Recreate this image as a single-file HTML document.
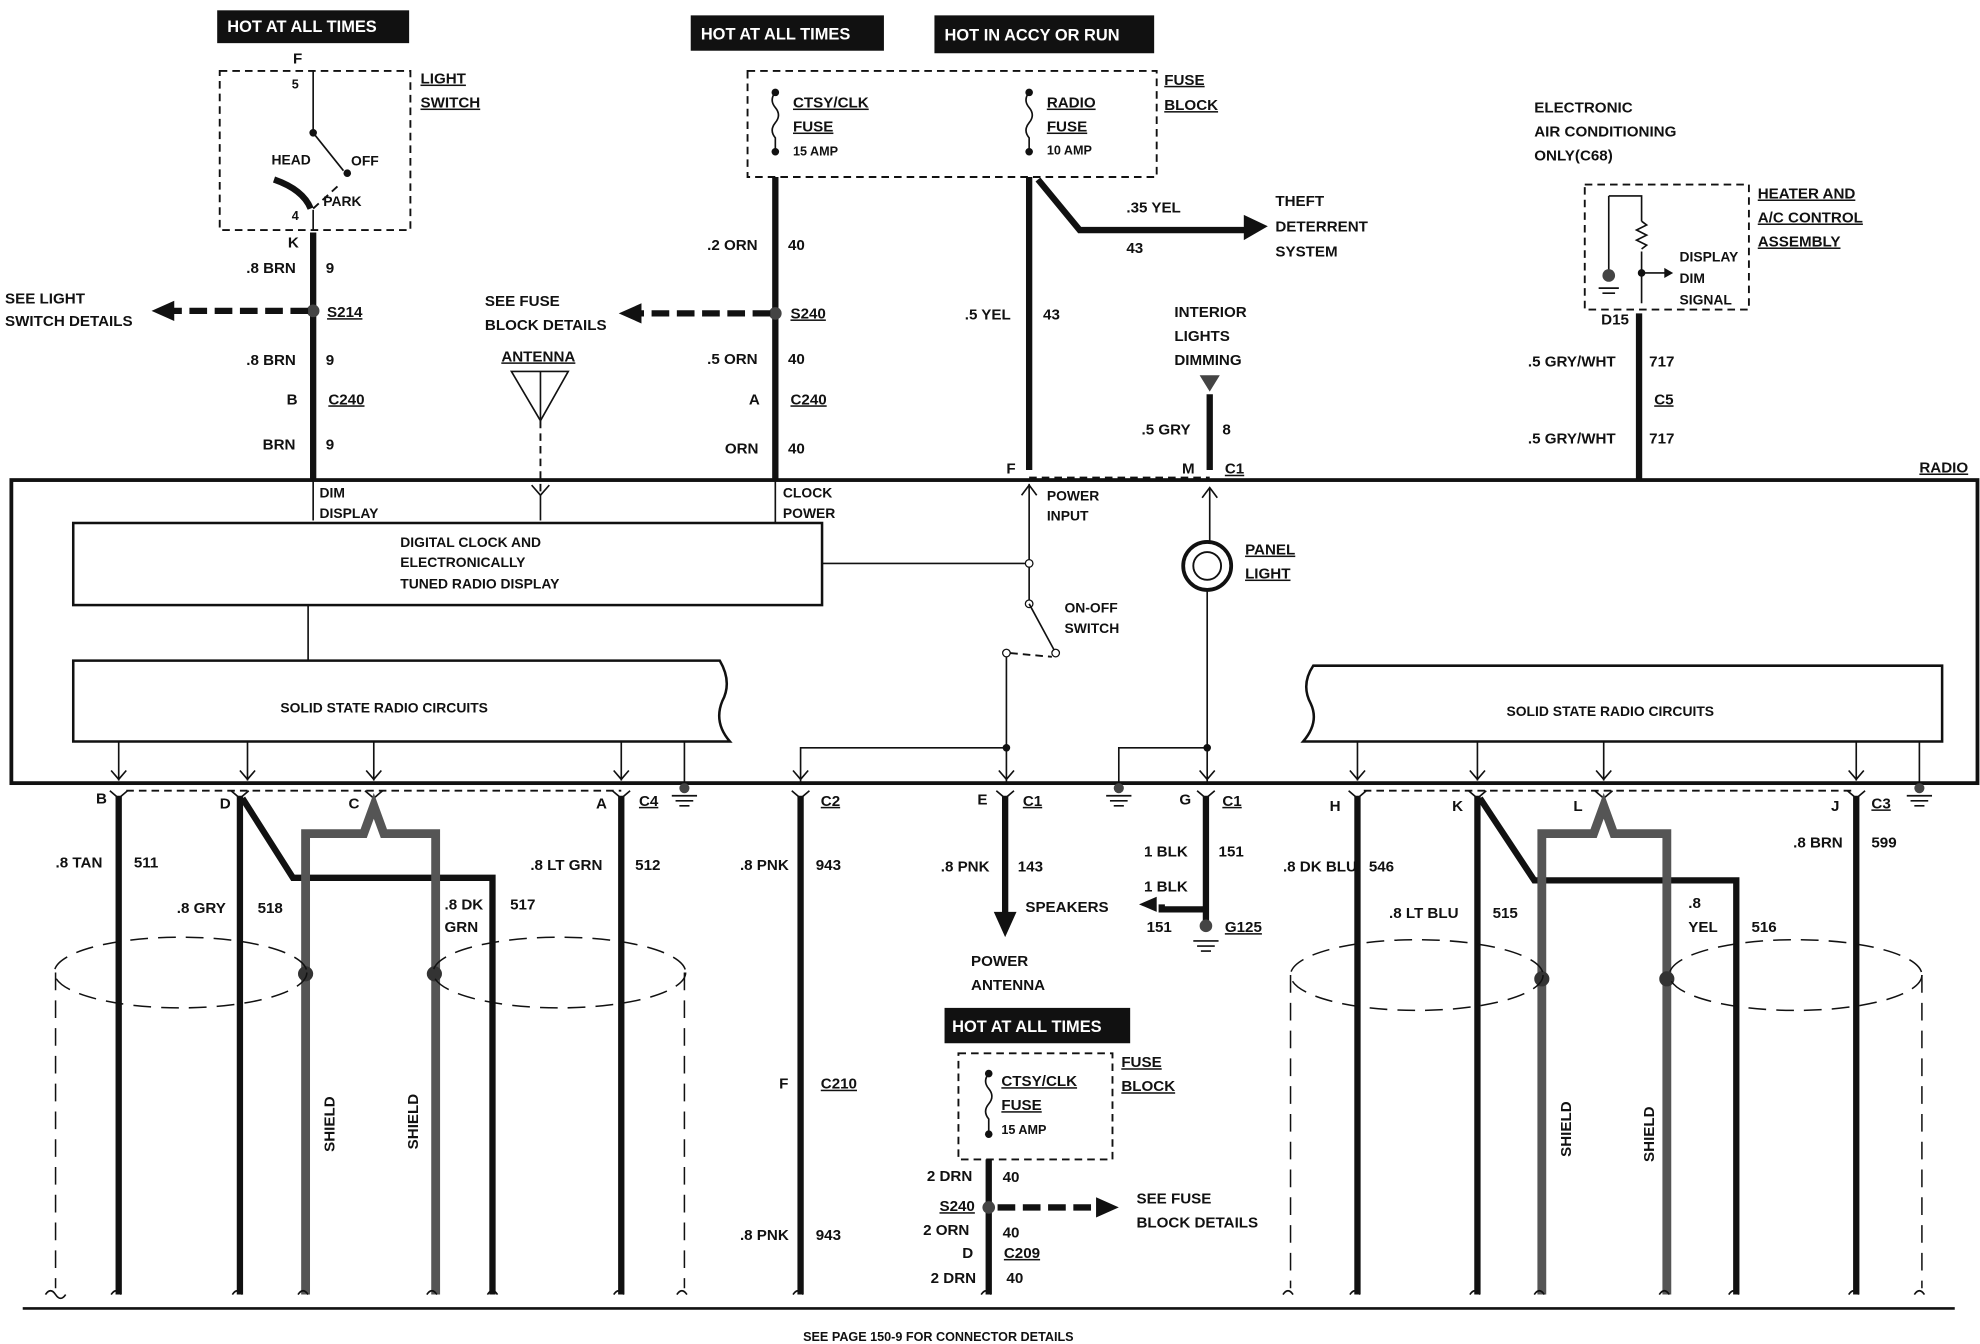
<!DOCTYPE html>
<html><head><meta charset="utf-8"><style>
html,body{margin:0;padding:0;background:#fff}
svg{display:block}
text{font-family:"Liberation Sans",sans-serif;font-weight:bold;font-size:12px;fill:#111}
.w{stroke:#111;stroke-width:5;fill:none}
.g{stroke:#555;stroke-width:7;fill:none}
.t{stroke:#111;stroke-width:1.3;fill:none}
.d{stroke:#111;stroke-width:1.5;fill:none;stroke-dasharray:6 4}
.dl{stroke:#111;stroke-width:1.2;fill:none;stroke-dasharray:14 8}
.u{text-decoration:underline}
</style></head><body>
<svg width="1980" height="1344" viewBox="0 0 1568 1064" xmlns="http://www.w3.org/2000/svg">
<rect width="1568" height="1064" fill="#fff"/>
<!-- top labels -->
<rect x="172" y="8" width="152" height="26" fill="#111"/><text x="180" y="25" style="fill:#fff;font-size:13px">HOT AT ALL TIMES</text>
<rect x="547" y="12" width="153" height="28" fill="#111"/><text x="555" y="31" style="fill:#fff;font-size:13px">HOT AT ALL TIMES</text>
<rect x="740" y="12" width="174" height="30" fill="#111"/><text x="748" y="32" style="fill:#fff;font-size:13px">HOT IN ACCY OR RUN</text>
<!-- light switch -->
<rect x="174" y="56" width="151" height="126" class="d"/>
<text x="232" y="50">F</text><text x="231" y="70" style="font-size:10px">5</text>
<text x="333" y="66" class="u">LIGHT</text><text x="333" y="85" class="u">SWITCH</text>
<line x1="248" y1="56" x2="248" y2="105" class="t"/><circle cx="248" cy="105" r="3" fill="#111"/>
<line x1="248" y1="105" x2="272" y2="135" class="t"/><circle cx="275" cy="137" r="3" fill="#111"/>
<text x="215" y="130" style="font-size:11px">HEAD</text><text x="278" y="131" style="font-size:11px">OFF</text>
<path d="M217 142 Q240 150 246 165" class="w"/><line x1="248" y1="165" x2="270" y2="145" class="d"/>
<text x="256" y="163" style="font-size:11px">PARK</text><text x="231" y="174" style="font-size:10px">4</text>
<line x1="248" y1="166" x2="248" y2="182" class="t"/>
<text x="228" y="196">K</text>
<line x1="248" y1="184" x2="248" y2="380" class="w"/>
<text x="195" y="216">.8 BRN</text><text x="258" y="216">9</text>
<circle cx="248" cy="246" r="5" fill="#444"/><text x="259" y="251" class="u">S214</text>
<line x1="244" y1="246" x2="135" y2="246" class="w" style="stroke-dasharray:14 6"/><path d="M120 246 L138 238 L138 254Z" fill="#111"/>
<text x="4" y="240">SEE LIGHT</text><text x="4" y="258">SWITCH DETAILS</text>
<text x="195" y="289">.8 BRN</text><text x="258" y="289">9</text>
<text x="227" y="320">B</text><text x="260" y="320" class="u">C240</text>
<text x="208" y="356">BRN</text><text x="258" y="356">9</text>
<!-- fuse block -->
<rect x="592" y="56" width="324" height="84" class="d"/>
<text x="922" y="67" class="u">FUSE</text><text x="922" y="87" class="u">BLOCK</text>
<text x="628" y="85" class="u">CTSY/CLK</text><text x="628" y="104" class="u">FUSE</text><text x="628" y="123" style="font-size:10px">15 AMP</text>
<text x="829" y="85" class="u">RADIO</text><text x="829" y="104" class="u">FUSE</text><text x="829" y="122" style="font-size:10px">10 AMP</text>
<circle cx="614" cy="73" r="3" fill="#111"/><circle cx="614" cy="120" r="3" fill="#111"/>
<path d="M614 73 q-5 6 0 12 q5 6 0 12 q-5 6 0 12 L614 120" class="t"/>
<circle cx="815" cy="73" r="3" fill="#111"/><circle cx="815" cy="120" r="3" fill="#111"/>
<path d="M815 73 q-5 6 0 12 q5 6 0 12 q-5 6 0 12 L815 120" class="t"/>
<line x1="614" y1="140" x2="614" y2="380" class="w"/>
<text x="560" y="198">.2 ORN</text><text x="624" y="198">40</text>
<circle cx="614" cy="248" r="5" fill="#444"/><text x="626" y="252" class="u">S240</text>
<line x1="610" y1="248" x2="505" y2="248" class="w" style="stroke-dasharray:14 6"/><path d="M490 248 L508 240 L508 256Z" fill="#111"/>
<text x="384" y="242">SEE FUSE</text><text x="384" y="261">BLOCK DETAILS</text>
<text x="560" y="288">.5 ORN</text><text x="624" y="288">40</text>
<text x="593" y="320">A</text><text x="626" y="320" class="u">C240</text>
<text x="574" y="359">ORN</text><text x="624" y="359">40</text>
<line x1="815" y1="140" x2="815" y2="372" class="w"/>
<path d="M822 142 L855 182 L988 182" class="w"/><path d="M1004 179 L985 170 L985 190Z" fill="#111"/>
<text x="892" y="168">.35 YEL</text><text x="892" y="200">43</text>
<text x="1010" y="163">THEFT</text><text x="1010" y="183">DETERRENT</text><text x="1010" y="203">SYSTEM</text>
<text x="764" y="253">.5 YEL</text><text x="826" y="253">43</text>
<text x="797" y="375">F</text>
<!-- antenna -->
<text x="397" y="286" class="u">ANTENNA</text>
<path d="M405 294 L450 294 L428 333Z" class="t"/><line x1="428" y1="294" x2="428" y2="333" class="t"/>
<line x1="428" y1="333" x2="428" y2="392" class="d"/>
<path d="M421 384 L428 392 L435 384" class="t"/><line x1="428" y1="392" x2="428" y2="412" class="t"/>
<!-- interior dim -->
<text x="930" y="251">INTERIOR</text><text x="930" y="270">LIGHTS</text><text x="930" y="289">DIMMING</text>
<path d="M950 297 L966 297 L958 310Z" fill="#444"/>
<line x1="958" y1="312" x2="958" y2="372" class="w"/>
<text x="904" y="344">.5 GRY</text><text x="968" y="344">8</text>
<text x="936" y="375">M</text><text x="970" y="375" class="u">C1</text>
<line x1="815" y1="378" x2="958" y2="378" class="d"/>
<!-- right top -->
<text x="1215" y="89">ELECTRONIC</text><text x="1215" y="108">AIR CONDITIONING</text><text x="1215" y="127">ONLY(C68)</text>
<rect x="1255" y="146" width="130" height="99" class="d"/>
<text x="1392" y="157" class="u">HEATER AND</text><text x="1392" y="176" class="u">A/C CONTROL</text><text x="1392" y="195" class="u">ASSEMBLY</text>
<path d="M1274 155 L1300 155 L1300 175" class="t"/><line x1="1274" y1="155" x2="1274" y2="215" class="t"/>
<circle cx="1274" cy="218" r="5" fill="#444"/><line x1="1266" y1="228" x2="1282" y2="228" class="t"/><line x1="1269" y1="232" x2="1279" y2="232" class="t"/>
<path d="M1300 175 l4 3 l-8 4 l8 4 l-8 4 l8 4 l-4 3" class="t"/>
<line x1="1300" y1="199" x2="1300" y2="240" class="t"/><circle cx="1300" cy="216" r="3" fill="#111"/>
<line x1="1300" y1="216" x2="1320" y2="216" class="t"/><path d="M1318 212 L1325 216 L1318 220Z" fill="#111"/>
<text x="1330" y="207" style="font-size:11px">DISPLAY</text><text x="1330" y="224" style="font-size:11px">DIM</text><text x="1330" y="241" style="font-size:11px">SIGNAL</text>
<text x="1268" y="257">D15</text>
<line x1="1298" y1="248" x2="1298" y2="380" class="w"/>
<text x="1210" y="290">.5 GRY/WHT</text><text x="1306" y="290">717</text>
<text x="1310" y="320" class="u">C5</text>
<text x="1210" y="351">.5 GRY/WHT</text><text x="1306" y="351">717</text>
<text x="1520" y="374" class="u">RADIO</text>
<!-- radio box -->
<rect x="9" y="380" width="1557" height="240" fill="none" stroke="#111" stroke-width="3"/>
<line x1="248" y1="380" x2="248" y2="412" class="t"/>
<text x="253" y="394" style="font-size:11px">DIM</text><text x="253" y="410" style="font-size:11px">DISPLAY</text>
<line x1="614" y1="380" x2="614" y2="414" class="t"/>
<text x="620" y="394" style="font-size:11px">CLOCK</text><text x="620" y="410" style="font-size:11px">POWER</text>
<rect x="58" y="414" width="593" height="65" fill="#fff" stroke="#111" stroke-width="2"/>
<text x="317" y="433" style="font-size:11px">DIGITAL CLOCK AND</text><text x="317" y="449" style="font-size:11px">ELECTRONICALLY</text><text x="317" y="466" style="font-size:11px">TUNED RADIO DISPLAY</text>
<line x1="651" y1="446" x2="815" y2="446" class="t"/>
<line x1="815" y1="383" x2="815" y2="478" class="t"/><path d="M809 392 L815 384 L821 392" class="t"/>
<text x="829" y="396" style="font-size:11px">POWER</text><text x="829" y="412" style="font-size:11px">INPUT</text>
<circle cx="815" cy="446" r="3" fill="#fff" stroke="#111"/><circle cx="815" cy="478" r="3" fill="#fff" stroke="#111"/>
<line x1="815" y1="478" x2="835" y2="515" class="t"/><circle cx="836" cy="517" r="3" fill="#fff" stroke="#111"/>
<circle cx="797" cy="517" r="3" fill="#fff" stroke="#111"/><line x1="800" y1="517" x2="833" y2="520" class="d"/>
<text x="843" y="485" style="font-size:11px">ON-OFF</text><text x="843" y="501" style="font-size:11px">SWITCH</text>
<line x1="797" y1="520" x2="797" y2="620" class="t"/><circle cx="797" cy="592" r="3" fill="#111"/>
<path d="M634 620 L634 592 L797 592" class="t"/>
<!-- panel light -->
<line x1="958" y1="386" x2="958" y2="428" class="t"/><path d="M952 394 L958 386 L964 394" class="t"/>
<circle cx="956" cy="448" r="19" fill="none" stroke="#111" stroke-width="3"/><circle cx="956" cy="448" r="11" fill="none" stroke="#111" stroke-width="1.5"/>
<text x="986" y="439" class="u">PANEL</text><text x="986" y="458" class="u">LIGHT</text>
<line x1="956" y1="467" x2="956" y2="620" class="t"/><circle cx="956" cy="592" r="3" fill="#111"/>
<path d="M886 620 L886 592 L956 592" class="t"/>
<line x1="244" y1="479" x2="244" y2="523" class="t"/>
<path d="M58 523 L570 523 Q580 540 572 555 Q565 572 578 587 L58 587Z" fill="#fff" stroke="#111" stroke-width="2"/>
<text x="222" y="564" style="font-size:11px">SOLID STATE RADIO CIRCUITS</text>
<path d="M1538 527 L1040 527 Q1030 542 1038 557 Q1045 572 1032 587 L1538 587Z" fill="#fff" stroke="#111" stroke-width="2"/>
<text x="1193" y="567" style="font-size:11px">SOLID STATE RADIO CIRCUITS</text>
<!-- down arrows from circuits -->
<g class="t">
<line x1="94" y1="587" x2="94" y2="618"/><path d="M88 610 L94 617 L100 610"/>
<line x1="196" y1="587" x2="196" y2="618"/><path d="M190 610 L196 617 L202 610"/>
<line x1="296" y1="587" x2="296" y2="618"/><path d="M290 610 L296 617 L302 610"/>
<line x1="492" y1="587" x2="492" y2="618"/><path d="M486 610 L492 617 L498 610"/>
<line x1="542" y1="587" x2="542" y2="622"/>
<path d="M628 610 L634 617 L640 610"/><path d="M791 610 L797 617 L803 610"/><path d="M950 610 L956 617 L962 610"/>
<line x1="1075" y1="587" x2="1075" y2="618"/><path d="M1069 610 L1075 617 L1081 610"/>
<line x1="1170" y1="587" x2="1170" y2="618"/><path d="M1164 610 L1170 617 L1176 610"/>
<line x1="1270" y1="587" x2="1270" y2="618"/><path d="M1264 610 L1270 617 L1276 610"/>
<line x1="1470" y1="587" x2="1470" y2="618"/><path d="M1464 610 L1470 617 L1476 610"/>
<line x1="1520" y1="587" x2="1520" y2="622"/>
</g>
<!-- grounds -->
<g fill="#444"><circle cx="542" cy="624" r="4"/><circle cx="886" cy="624" r="4"/><circle cx="1520" cy="624" r="4"/></g>
<g class="t"><path d="M532 630 h20 M535 634 h14 M538 638 h8 M876 630 h20 M879 634 h14 M882 638 h8 M1510 630 h20 M1513 634 h14 M1516 638 h8"/></g>
<!-- dashed connector lines -->
<line x1="100" y1="626" x2="492" y2="626" class="d"/><line x1="1080" y1="626" x2="1470" y2="626" class="d"/>
<!-- bottom wires left -->
<g class="t" stroke-width="2.5"><path d="M87 626 L94 632 L101 626 M183 626 L190 632 L197 626 M289 626 L296 632 L303 626 M485 626 L492 632 L499 626 M627 626 L634 632 L641 626 M789 626 L796 632 L803 626 M948 626 L955 632 L962 626 M1068 626 L1075 632 L1082 626 M1163 626 L1170 632 L1177 626 M1263 626 L1270 632 L1277 626 M1463 626 L1470 632 L1477 626"/></g>
<line x1="94" y1="630" x2="94" y2="1025" class="w"/>
<path d="M190 630 L190 1025 M192 632 L232 695 L390 695 L390 1025" class="w"/>
<path d="M242 1025 L242 660 L288 660 L296 638 L304 660 L345 660 L345 1025" class="g"/>
<line x1="492" y1="630" x2="492" y2="1025" class="w"/>
<circle cx="242" cy="771" r="6" fill="#333"/><circle cx="344" cy="771" r="6" fill="#333"/>
<ellipse cx="143" cy="770" rx="100" ry="28" class="dl"/><ellipse cx="443" cy="770" rx="100" ry="28" class="dl"/>
<line x1="44" y1="770" x2="44" y2="1020" class="dl"/><line x1="542" y1="770" x2="542" y2="1020" class="dl"/>
<text x="76" y="636">B</text><text x="174" y="640">D</text><text x="276" y="640">C</text><text x="472" y="640">A</text><text x="506" y="638" class="u">C4</text>
<text x="44" y="687">.8 TAN</text><text x="106" y="687">511</text>
<text x="140" y="723">.8 GRY</text><text x="204" y="723">518</text>
<text x="352" y="720">.8 DK</text><text x="352" y="738">GRN</text><text x="404" y="720">517</text>
<text x="420" y="689">.8 LT GRN</text><text x="503" y="689">512</text>
<text transform="translate(265,912) rotate(-90)">SHIELD</text><text transform="translate(331,910) rotate(-90)">SHIELD</text>
<!-- middle bottom -->
<line x1="634" y1="630" x2="634" y2="1025" class="w"/>
<text x="650" y="638" class="u">C2</text>
<text x="586" y="689">.8 PNK</text><text x="646" y="689">943</text>
<text x="617" y="862">F</text><text x="650" y="862" class="u">C210</text>
<text x="586" y="982">.8 PNK</text><text x="646" y="982">943</text>
<line x1="796" y1="630" x2="796" y2="725" class="w"/><path d="M787 722 L796 742 L805 722Z" fill="#111"/>
<text x="774" y="637">E</text><text x="810" y="638" class="u">C1</text>
<text x="745" y="690">.8 PNK</text><text x="806" y="690">143</text>
<text x="812" y="722">SPEAKERS</text>
<text x="769" y="765">POWER</text><text x="769" y="784">ANTENNA</text>
<line x1="955" y1="630" x2="955" y2="730" class="w"/><circle cx="955" cy="733" r="5" fill="#444"/>
<path d="M955 720 L920 720 L920 716" class="w"/><path d="M902 716 L916 710 L916 722Z" fill="#111"/>
<text x="934" y="637">G</text><text x="968" y="638" class="u">C1</text>
<text x="906" y="678">1 BLK</text><text x="965" y="678">151</text>
<text x="906" y="706">1 BLK</text><text x="908" y="738">151</text><text x="970" y="738" class="u">G125</text>
<g class="t"><path d="M945 745 h20 M948 749 h14 M951 753 h8"/></g>
<rect x="748" y="798" width="147" height="28" fill="#111"/><text x="754" y="817" style="fill:#fff;font-size:13px">HOT AT ALL TIMES</text>
<rect x="759" y="834" width="122" height="84" class="d"/>
<text x="888" y="845" class="u">FUSE</text><text x="888" y="864" class="u">BLOCK</text>
<text x="793" y="860" class="u">CTSY/CLK</text><text x="793" y="879" class="u">FUSE</text><text x="793" y="898" style="font-size:10px">15 AMP</text>
<circle cx="783" cy="850" r="3" fill="#111"/><circle cx="783" cy="898" r="3" fill="#111"/>
<path d="M783 850 q-5 6 0 12 q5 6 0 12 q-5 6 0 12 L783 898" class="t"/>
<line x1="783" y1="918" x2="783" y2="1025" class="w"/>
<text x="734" y="935">2 DRN</text><text x="794" y="936">40</text>
<circle cx="783" cy="956" r="5" fill="#444"/><text x="744" y="959" class="u">S240</text>
<line x1="790" y1="956" x2="870" y2="956" class="w" style="stroke-dasharray:14 6"/><path d="M886 956 L868 948 L868 964Z" fill="#111"/>
<text x="900" y="953">SEE FUSE</text><text x="900" y="972">BLOCK DETAILS</text>
<text x="731" y="978">2 ORN</text><text x="794" y="980">40</text>
<text x="762" y="996">D</text><text x="795" y="996" class="u">C209</text>
<text x="737" y="1016">2 DRN</text><text x="797" y="1016">40</text>
<!-- right bottom -->
<line x1="1075" y1="630" x2="1075" y2="1025" class="w"/>
<path d="M1170 630 L1170 1025 M1172 632 L1215 697 L1375 697 L1375 1025" class="w"/>
<path d="M1221 1025 L1221 660 L1262 660 L1270 638 L1278 660 L1320 660 L1320 1025" class="g"/>
<line x1="1470" y1="630" x2="1470" y2="1025" class="w"/>
<circle cx="1221" cy="775" r="6" fill="#333"/><circle cx="1320" cy="775" r="6" fill="#333"/>
<ellipse cx="1122" cy="772" rx="100" ry="28" class="dl"/><ellipse cx="1422" cy="772" rx="100" ry="28" class="dl"/>
<line x1="1022" y1="772" x2="1022" y2="1020" class="dl"/><line x1="1522" y1="772" x2="1522" y2="1020" class="dl"/>
<text x="1053" y="642">H</text><text x="1150" y="642">K</text><text x="1246" y="642">L</text><text x="1450" y="642">J</text><text x="1482" y="640" class="u">C3</text>
<text x="1016" y="690">.8 DK BLU</text><text x="1084" y="690">546</text>
<text x="1100" y="727">.8 LT BLU</text><text x="1182" y="727">515</text>
<text x="1337" y="719">.8</text><text x="1337" y="738">YEL</text><text x="1387" y="738">516</text>
<text x="1420" y="671">.8 BRN</text><text x="1482" y="671">599</text>
<text transform="translate(1244,916) rotate(-90)">SHIELD</text><text transform="translate(1310,920) rotate(-90)">SHIELD</text>
<!-- bottom line -->
<line x1="18" y1="1036" x2="1548" y2="1036" stroke="#111" stroke-width="2"/>
<g class="t"><path d="M36 1025 q4 -6 8 0 q4 6 8 0 M88 1025 q4 -6 8 0 M184 1025 q4 -6 8 0 M236 1025 q4 -6 8 0 M338 1025 q4 -6 8 0 M386 1025 q4 -6 8 0 M486 1025 q4 -6 8 0 M536 1025 q4 -6 8 0 M628 1025 q4 -6 8 0 M777 1025 q4 -6 8 0 M1016 1025 q4 -6 8 0 M1069 1025 q4 -6 8 0 M1164 1025 q4 -6 8 0 M1215 1025 q4 -6 8 0 M1314 1025 q4 -6 8 0 M1369 1025 q4 -6 8 0 M1464 1025 q4 -6 8 0 M1516 1025 q4 -6 8 0"/></g>
<text x="636" y="1062" style="font-size:10px">SEE PAGE 150-9 FOR CONNECTOR DETAILS</text>
</svg>
</body></html>
